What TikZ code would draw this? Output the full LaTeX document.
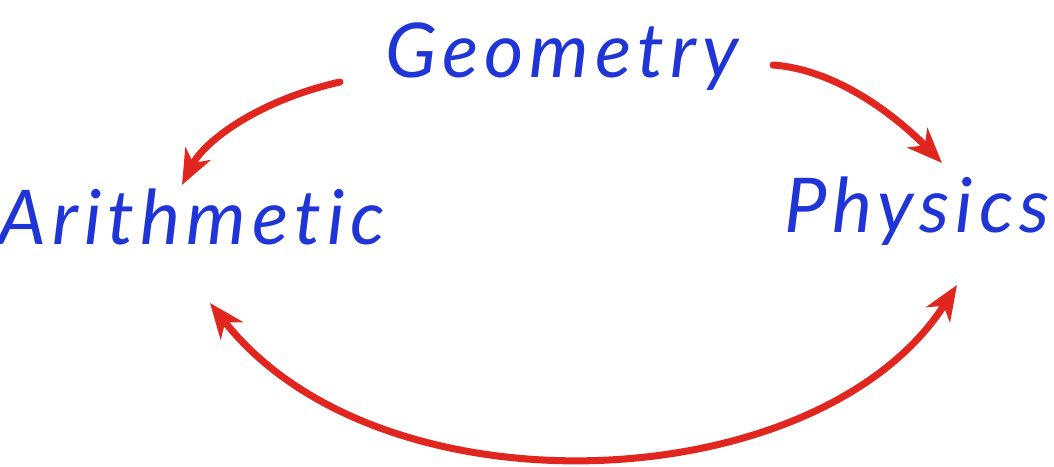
\documentclass[tikz,border=0pt]{standalone}
\usepackage{fontspec}
\setmainfont{Lato}
\usepackage{xcolor}
\usepackage{tikz}
\usetikzlibrary{arrows.meta, positioning, calc}
\definecolor{inkblue}{HTML}{1F35D6}
\definecolor{inkred}{HTML}{E0261E}

\begin{document}
\begin{tikzpicture}[
    x=0.01cm, y=-0.01cm,
    word/.style={anchor=base,text=inkblue,font=\fontsize{21.5}{26}\selectfont\itshape\addfontfeatures{LetterSpace=8,Ligatures=NoCommon},inner sep=0pt},
    link/.style={draw=inkred,line width=2pt,line cap=round,-{Stealth[length=10pt,width=8pt,inset=3pt]}}
  ]
    \useasboundingbox (0,0) rectangle (1054,467);

    \node[word] (geo) at (562,78) {Geometry};
    \node[word] (ari) at (192,245) {Arithmetic};
    \node[word] (phy) at (917,232) {Physics};

    % free ends of the arrows
    \coordinate (geoL) at (340,82);
    \coordinate (geoR) at (773,65);
    \coordinate (ariB) at (210,303);
    \coordinate (ariT) at (182,185);
    \coordinate (phyT) at (942,163);
    \coordinate (phyB) at (957,285);

    \draw[link] (geoL) .. controls (260,100) and (205,140) .. (ariT);
    \draw[link] (geoR) .. controls (840,70) and (900,120) .. (phyT);
    \draw[link,{Stealth[length=10pt,width=8pt,inset=3pt]}-{Stealth[length=10pt,width=8pt,inset=3pt]}]
      (ariB) .. controls (380,520) and (820,500) .. (phyB);
  \end{tikzpicture}
\end{document}
